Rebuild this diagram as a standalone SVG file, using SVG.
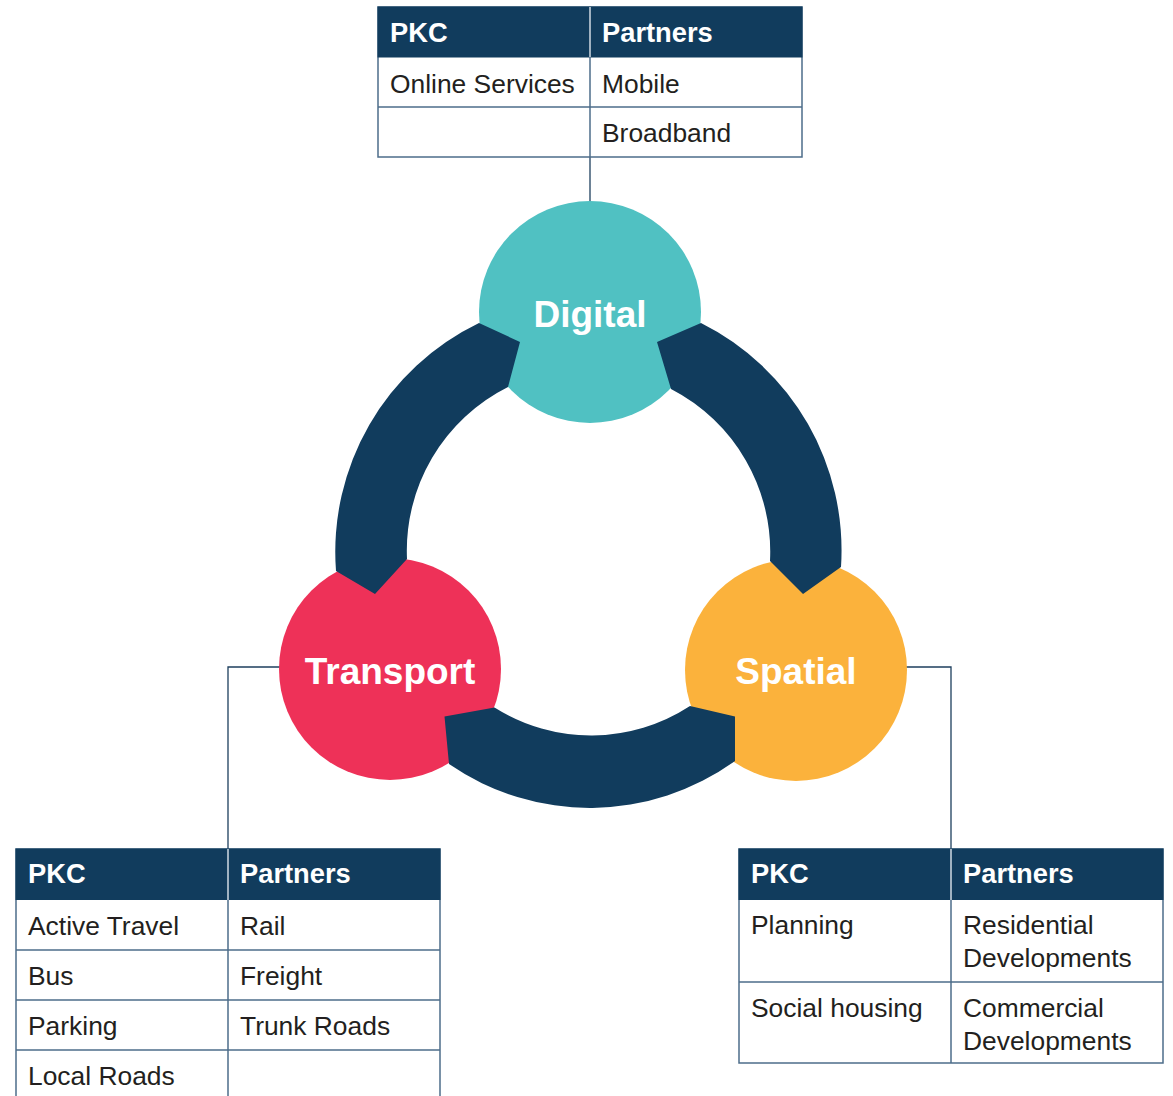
<svg xmlns="http://www.w3.org/2000/svg" width="1173" height="1096" viewBox="0 0 1173 1096">
<style>
.hd{fill:#113c5d}
.cell{fill:#fff;stroke:#4d6d8a;stroke-width:1.5}
.hdiv{stroke:#d0dae3;stroke-width:1.5}
.grid{stroke:#4d6d8a;stroke-width:1.5;fill:none}
.ht{font-family:"Liberation Sans",Arial,sans-serif;font-weight:bold;font-size:27.3px;fill:#fff}
.ct{font-family:"Liberation Sans",Arial,sans-serif;font-size:26.4px;fill:#231f20}
.lbl{font-family:"Liberation Sans",Arial,sans-serif;font-weight:bold;font-size:37px;fill:#fff;text-anchor:middle}
.ring{fill:#113c5d}
.conn{stroke:#1e3f5e;stroke-width:1.3;fill:none}
</style>
<rect width="1173" height="1096" fill="#fff"/>
<g id="connectors">
<path class="conn" d="M590,157 V202"/>
<path class="conn" d="M280,667 H228 V849"/>
<path class="conn" d="M905,667 H951 V849"/>
</g>
<g id="digital">
<circle cx="590" cy="312" r="111" fill="#50c1c2"/>
</g>
<g id="transport">
<circle cx="390" cy="669" r="111" fill="#ee3158"/>
</g>
<g id="spatial">
<circle cx="796" cy="670" r="111" fill="#fbb23c"/>
</g>
<g id="ring">
<path class="ring" d="M479,323 A254,254 0 0 0 336,571 L375,594 L407,559 A183,183 0 0 1 508,387 L520,342 Z"/>
<path class="ring" d="M701,323 A254,254 0 0 1 841,567 L803,594 L770,561 A183,183 0 0 0 671,389 L657,342 Z"/>
<path class="ring" d="M449,764 A248,248 0 0 0 735,761 L735,716.5 L690,706 A181,181 0 0 1 494.5,707.5 L444.5,716.5 Z"/>
</g>
<g id="labels">
<text class="lbl" x="590" y="327">Digital</text>
<text class="lbl" x="390" y="684">Transport</text>
<text class="lbl" x="796" y="684">Spatial</text>
</g>
<g id="table-digital">
<rect class="cell" x="378" y="7" width="424" height="150"/>
<rect class="hd" x="377.5" y="6.5" width="425" height="51"/>
<line class="hdiv" x1="590" y1="7" x2="590" y2="57"/>
<path class="grid" d="M378,107 H802 M590,57 V157"/>
<text class="ht" x="390" y="42">PKC</text>
<text class="ht" x="602" y="42">Partners</text>
<text class="ct" x="390" y="93">Online Services</text>
<text class="ct" x="602" y="93">Mobile</text>
<text class="ct" x="602" y="142">Broadband</text>
</g>
<g id="table-transport">
<rect class="cell" x="16" y="849" width="424" height="260"/>
<rect class="hd" x="15.5" y="848.5" width="425" height="51.5"/>
<line class="hdiv" x1="228" y1="849" x2="228" y2="900"/>
<path class="grid" d="M16,950 H440 M16,1000 H440 M16,1050 H440 M228,900 V1100"/>
<text class="ht" x="28" y="883">PKC</text>
<text class="ht" x="240" y="883">Partners</text>
<text class="ct" x="28" y="935">Active Travel</text>
<text class="ct" x="240" y="935">Rail</text>
<text class="ct" x="28" y="985">Bus</text>
<text class="ct" x="240" y="985">Freight</text>
<text class="ct" x="28" y="1035">Parking</text>
<text class="ct" x="240" y="1035">Trunk Roads</text>
<text class="ct" x="28" y="1085">Local Roads</text>
</g>
<g id="table-spatial">
<rect class="cell" x="739" y="849" width="424" height="214"/>
<rect class="hd" x="738.5" y="848.5" width="425" height="51.5"/>
<line class="hdiv" x1="951" y1="849" x2="951" y2="900"/>
<path class="grid" d="M739,982 H1163 M951,900 V1063"/>
<text class="ht" x="751" y="883">PKC</text>
<text class="ht" x="963" y="883">Partners</text>
<text class="ct" x="751" y="934">Planning</text>
<text class="ct" x="963" y="934">Residential</text>
<text class="ct" x="963" y="967">Developments</text>
<text class="ct" x="751" y="1017">Social housing</text>
<text class="ct" x="963" y="1017">Commercial</text>
<text class="ct" x="963" y="1050">Developments</text>
</g>
</svg>
